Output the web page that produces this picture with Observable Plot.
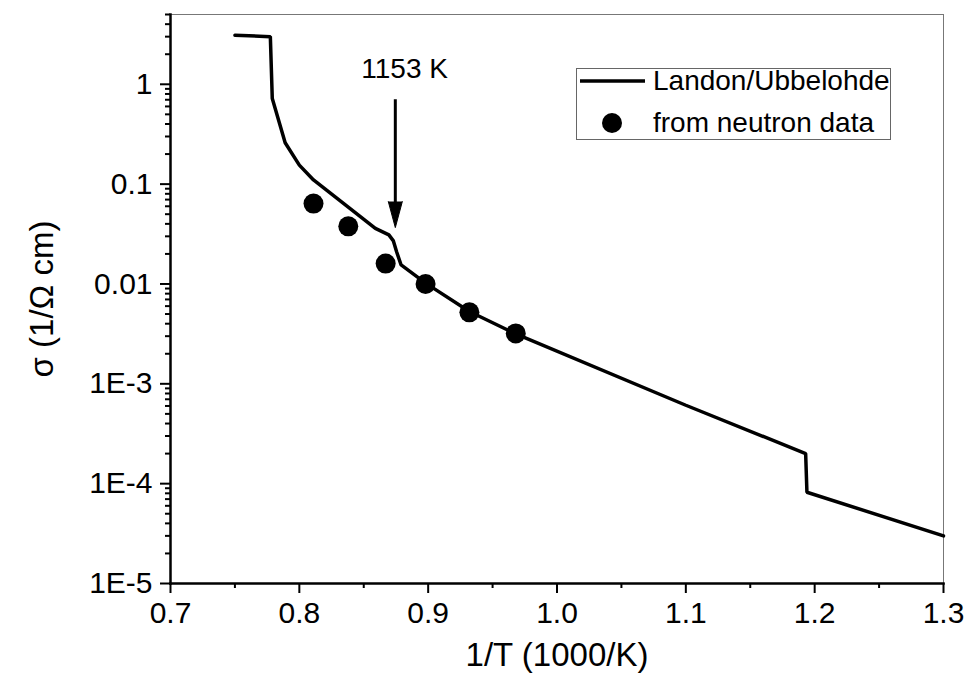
<!DOCTYPE html>
<html>
<head>
<meta charset="utf-8">
<script src="https://cdn.jsdelivr.net/npm/d3@7"></script>
<script src="https://cdn.jsdelivr.net/npm/@observablehq/plot@0.6"></script>
<style>
  html, body { margin: 0; padding: 0; background: #fff; }
  #wrap { position: relative; width: 967px; height: 691px; font-family: Arial, "Liberation Sans", sans-serif; }
  #legend { position: absolute; left: 576px; top: 68px; width: 315px; height: 72px; border: 1px solid #666; box-sizing: border-box; background: #fff; }
  #legend .row { position: absolute; left: 0; height: 34px; display: flex; align-items: center; font-size: 28px; color: #000; white-space: nowrap; }
  #legend svg { display: block; }
</style>
</head>
<body>
<div id="wrap"></div>
<script>
// ---- data ----
const xDomain = [0.7, 1.3];
const yDomain = [1e-5, 5];
const xMajor = [0.7, 0.8, 0.9, 1.0, 1.1, 1.2, 1.3];
const xLabels = ["0.7", "0.8", "0.9", "1.0", "1.1", "1.2", "1.3"];
const xMinor = [0.75, 0.85, 0.95, 1.05, 1.15, 1.25];
const yMajor = [1e-5, 1e-4, 1e-3, 0.01, 0.1, 1];
const yLabels = ["1E-5", "1E-4", "1E-3", "0.01", "0.1", "1"];
const yMinorMult = [2, 3, 4, 5, 6, 7, 8, 9];

// Landon/Ubbelohde curve
const lineX = [0.750, 0.7775, 0.779, 0.789, 0.800, 0.811, 0.859, 0.8695, 0.873, 0.8755, 0.879, 0.898, 0.932, 0.968, 1.100, 1.193, 1.194, 1.300];
const lineY = [3.1, 3.0, 0.72, 0.26, 0.155, 0.11, 0.036, 0.031, 0.027, 0.021, 0.0155, 0.0102, 0.0053, 0.00316, 6.1e-4, 2.0e-4, 8.2e-5, 3.0e-5];

// from neutron data
const dotX = [0.811, 0.838, 0.867, 0.898, 0.932, 0.968];
const dotY = [0.0638, 0.0378, 0.0160, 0.0100, 0.0052, 0.0032];

// annotation
const arrowX = [0.8745];
const arrowTop = [0.70];
const arrowTip = [0.0367];
const annText = ["1153 K"];
const annX = [0.8817];
const annY = [1.42];

const xTitle = "1/T (1000/K)";
const yTitle = "σ (1/Ω cm)";
const legendLabels = ["Landon/Ubbelohde", "from neutron data"];

// ---- build ----
const lineData = lineX.map((x, i) => ({x, y: lineY[i]}));
const dotData = dotX.map((x, i) => ({x, y: dotY[i]}));
const yMinor = [];
for (let e = -5; e <= 0; e++) for (const m of yMinorMult) { const v = m * Math.pow(10, e); if (v <= yDomain[1] + 1e-12) yMinor.push(v); }
const arrowData = arrowX.map((x, i) => ({x, y1: arrowTop[i], y2: arrowTip[i] * 1.38, tip: arrowTip[i]}));
const annData = annText.map((t, i) => ({t, x: annX[i], y: annY[i]}));

const fmt = (ticks, labels) => d => { const i = ticks.findIndex(v => Math.abs(v - d) / Math.abs(v) < 1e-6); return i >= 0 ? labels[i] : ""; };

const chart = Plot.plot({
  width: 967,
  height: 691,
  marginLeft: 170,
  marginRight: 24,
  marginTop: 14,
  marginBottom: 108,
  style: { fontFamily: 'Arial, "Liberation Sans", sans-serif', color: "#000", background: "#fff", overflow: "visible" },
  x: { type: "linear", domain: xDomain },
  y: { type: "log", domain: yDomain },
  marks: [
    Plot.frame({ stroke: "#777", strokeWidth: 1 }),
    Plot.axisX({ ticks: xMinor, tickSize: 5, tickFormat: () => "", label: null, strokeWidth: 2 }),
    Plot.axisX({ ticks: xMajor, tickSize: 10, tickPadding: 8, tickFormat: fmt(xMajor, xLabels), label: null, fontSize: 30, strokeWidth: 2 }),
    Plot.axisY({ ticks: yMinor, tickSize: 5, tickFormat: () => "", label: null, strokeWidth: 2 }),
    Plot.axisY({ ticks: yMajor, tickSize: 10, tickPadding: 8, tickFormat: fmt(yMajor, yLabels), label: null, fontSize: 30, strokeWidth: 2 }),
    Plot.frame({ anchor: "left", strokeWidth: 2.5 }),
    Plot.frame({ anchor: "bottom", strokeWidth: 2.5 }),
    Plot.line(lineData, { x: "x", y: "y", stroke: "#000", strokeWidth: 3.5, strokeLinejoin: "miter" }),
    Plot.dot(dotData, { x: "x", y: "y", r: 10, fill: "#000" }),
    Plot.ruleX(arrowData, { x: "x", y1: "y1", y2: "y2", stroke: "#000", strokeWidth: 3 }),
    Plot.vector(arrowData, { x: "x", y: "tip", shape: "spike", length: 26, r: 7, rotate: 180, anchor: "end", fill: "#000", stroke: "#000", strokeWidth: 1 }),
    Plot.text(annData, { x: "x", y: "y", text: "t", fontSize: 28 }),
    Plot.text([xTitle], { frameAnchor: "bottom", dy: 82, fontSize: 33, textAnchor: "middle", text: d => d }),
    Plot.text([yTitle], { frameAnchor: "left", dx: -128, rotate: -90, fontSize: 33, textAnchor: "middle", text: d => d })
  ]
});

const wrap = document.getElementById("wrap");
wrap.appendChild(chart);

// legend
const legend = document.createElement("div");
legend.id = "legend";
legend.innerHTML = `
  <div class="row" style="top:-5px;left:2px;">
    <svg width="68" height="20"><line x1="1" y1="10" x2="66" y2="10" stroke="#000" stroke-width="3.5"/></svg>
    <span style="margin-left:6px;">${legendLabels[0]}</span>
  </div>
  <div class="row" style="top:37px;left:2px;">
    <svg width="68" height="24"><circle cx="33" cy="12" r="10" fill="#000"/></svg>
    <span style="margin-left:6px;">${legendLabels[1]}</span>
  </div>`;
wrap.appendChild(legend);
</script>
</body>
</html>
